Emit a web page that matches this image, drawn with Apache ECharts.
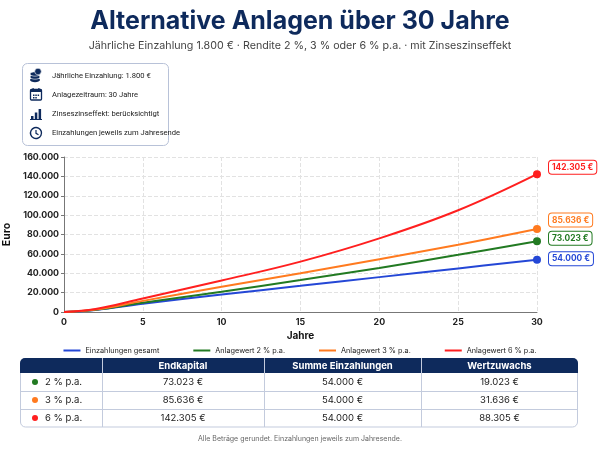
<!DOCTYPE html>
<html>
<head>
<meta charset="utf-8">
<script src="https://cdn.jsdelivr.net/npm/echarts@6/dist/echarts.min.js"></script>
<style>
  html, body { margin: 0; padding: 0; background: #fff; }
  #chart { width: 600px; height: 450px; }
</style>
</head>
<body>
<div id="chart"></div>
<script>
// Werte (Euro, Jahresende)
var jahre = [0, 2, 5, 10, 15, 20, 25, 30];
var einzahlungen = [0, 2000, 8500, 18000, 27000, 36000, 45000, 54000];
var wert2 = [0, 2200, 9500, 21000, 33000, 45500, 59000, 73023];
var wert3 = [0, 2500, 11500, 26000, 40000, 54500, 69500, 85636];
var wert6 = [0, 3000, 14000, 32500, 52000, 76000, 105000, 142305];

var serienNamen = ['Einzahlungen gesamt', 'Anlagewert 2 % p.a.', 'Anlagewert 3 % p.a.', 'Anlagewert 6 % p.a.'];
var farben = ['#2447d6', '#227a22', '#ff7a1f', '#ff1f1f'];
var labelOffset = [[0, -1], [0, -3], [0, -9], [0, -7]];

var tabelleKopf = ['', 'Endkapital', 'Summe Einzahlungen', 'Wertzuwachs'];
var tabelleZeilen = [
  ['2 % p.a.', '73.023 €', '54.000 €', '19.023 €'],
  ['3 % p.a.', '85.636 €', '54.000 €', '31.636 €'],
  ['6 % p.a.', '142.305 €', '54.000 €', '88.305 €']
];
var tabelleFarben = ['#227a22', '#ff7a1f', '#ff1f1f'];

var infoTexte = ['Jährliche Einzahlung: 1.800 €', 'Anlagezeitraum: 30 Jahre',
  'Zinseszinseffekt: berücksichtigt', 'Einzahlungen jeweils zum Jahresende'];

var navy = '#0e2a5c';
var FONT = 'Inter, "Noto Sans", sans-serif';
var SMALL = '"Liberation Sans Narrow", Roboto, sans-serif';

function fmt(v) {
  return String(Math.round(v)).replace(/\B(?=(\d{3})+(?!\d))/g, '.');
}

var myChart = echarts.init(document.getElementById('chart'));

var reihen = [einzahlungen, wert2, wert3, wert6];
var series = reihen.map(function (werte, i) {
  var last = werte[werte.length - 1];
  return {
    name: serienNamen[i],
    type: 'line',
    smooth: 0.4,
    showSymbol: false,
    data: jahre.map(function (j, k) { return [j, werte[k]]; }),
    lineStyle: { width: 2, color: farben[i] },
    itemStyle: { color: farben[i] },
    z: 3 + i,
    markPoint: {
      symbol: 'circle',
      symbolSize: 8,
      itemStyle: { color: farben[i] },
      data: [{ coord: [30, last], value: last }],
      label: {
        show: true,
        position: 'right',
        distance: 8,
        offset: labelOffset[i],
        formatter: function (p) { return fmt(p.value) + ' €'; },
        color: farben[i],
        fontFamily: FONT,
        fontWeight: 'bold',
        fontSize: 8.4,
        backgroundColor: '#fff',
        borderColor: farben[i],
        borderWidth: 1,
        borderRadius: 3,
        padding: [3, 3, 2, 3]
      }
    }
  };
});

// Info-Box mit Icons
var infoElemente = [
  { type: 'rect', shape: { x: 22.5, y: 63.5, width: 146, height: 82, r: 5 },
    style: { fill: '#fff', stroke: '#b8c2d8', lineWidth: 1 } }
];
var iconX = 36, zeilenY = [76, 95, 114, 133];
// Münzen
infoElemente.push(
  { type: 'ellipse', shape: { cx: iconX - 1, cy: 80, rx: 5, ry: 2.2 }, style: { fill: navy } },
  { type: 'ellipse', shape: { cx: iconX - 1, cy: 77, rx: 5, ry: 2.2 }, style: { fill: navy, stroke: '#fff', lineWidth: 0.6 } },
  { type: 'ellipse', shape: { cx: iconX - 1, cy: 74, rx: 5, ry: 2.2 }, style: { fill: navy, stroke: '#fff', lineWidth: 0.6 } },
  { type: 'circle', shape: { cx: iconX + 2, cy: 71.5, r: 3.3 }, style: { fill: navy, stroke: '#fff', lineWidth: 0.6 } }
);
// Kalender
infoElemente.push(
  { type: 'rect', shape: { x: iconX - 5.5, y: 89.5, width: 11, height: 10.5, r: 1 }, style: { fill: 'none', stroke: navy, lineWidth: 1.3 } },
  { type: 'rect', shape: { x: iconX - 5.5, y: 89.5, width: 11, height: 2.5 }, style: { fill: navy } },
  { type: 'rect', shape: { x: iconX - 3.5, y: 88, width: 1.2, height: 3 }, style: { fill: navy } },
  { type: 'rect', shape: { x: iconX + 2.3, y: 88, width: 1.2, height: 3 }, style: { fill: navy } },
  { type: 'rect', shape: { x: iconX - 3, y: 94.5, width: 1.5, height: 1.5 }, style: { fill: navy } },
  { type: 'rect', shape: { x: iconX - 0.7, y: 94.5, width: 1.5, height: 1.5 }, style: { fill: navy } },
  { type: 'rect', shape: { x: iconX + 1.6, y: 94.5, width: 1.5, height: 1.5 }, style: { fill: navy } },
  { type: 'rect', shape: { x: iconX - 3, y: 97, width: 1.5, height: 1.5 }, style: { fill: navy } },
  { type: 'rect', shape: { x: iconX - 0.7, y: 97, width: 1.5, height: 1.5 }, style: { fill: navy } }
);
// Balken
infoElemente.push(
  { type: 'rect', shape: { x: iconX - 5, y: 116, width: 2.5, height: 3 }, style: { fill: navy } },
  { type: 'rect', shape: { x: iconX - 1.2, y: 112.5, width: 2.5, height: 6.5 }, style: { fill: navy } },
  { type: 'rect', shape: { x: iconX + 2.6, y: 109, width: 2.5, height: 10 }, style: { fill: navy } },
  { type: 'rect', shape: { x: iconX - 6, y: 119, width: 12, height: 1 }, style: { fill: navy } }
);
// Uhr
infoElemente.push(
  { type: 'arc', shape: { cx: iconX, cy: 133, r: 5.5, startAngle: -Math.PI * 0.35, endAngle: Math.PI * 1.85 },
    style: { fill: 'none', stroke: navy, lineWidth: 1.4 } },
  { type: 'polyline', shape: { points: [[iconX, 130], [iconX, 133.3], [iconX + 2.5, 134.8]] },
    style: { fill: 'none', stroke: navy, lineWidth: 1.2 } }
);
infoTexte.forEach(function (t, i) {
  infoElemente.push({ type: 'text', x: 52, y: zeilenY[i],
    style: { text: t, fill: '#222', font: '7.6px ' + SMALL, textVerticalAlign: 'middle' } });
});

// Tabelle
var tabX = [20, 102, 264, 421, 578];
var tabY = [358, 373, 391, 409, 427];
var tabElemente = [
  { type: 'rect', shape: { x: 20.5, y: 358.5, width: 557, height: 68.5, r: 5 },
    style: { fill: '#fff', stroke: '#c3cbdd', lineWidth: 1 } },
  { type: 'rect', shape: { x: 20, y: 358, width: 558, height: 15, r: [5, 5, 0, 0] },
    style: { fill: navy } }
];
for (var c = 1; c < 4; c++) {
  tabElemente.push({ type: 'line', shape: { x1: tabX[c] + 0.5, y1: 358, x2: tabX[c] + 0.5, y2: 427 },
    style: { stroke: '#c3cbdd', lineWidth: 1 } });
}
for (var r = 2; r < 4; r++) {
  tabElemente.push({ type: 'line', shape: { x1: 20, y1: tabY[r] + 0.5, x2: 578, y2: tabY[r] + 0.5 },
    style: { stroke: '#c3cbdd', lineWidth: 1 } });
}
tabelleKopf.forEach(function (t, ci) {
  if (!t) return;
  tabElemente.push({ type: 'text', x: (tabX[ci] + tabX[ci + 1]) / 2, y: 366,
    style: { text: t, fill: '#fff', font: 'bold 9.5px ' + FONT, textAlign: 'center', textVerticalAlign: 'middle' } });
});
tabelleZeilen.forEach(function (zeile, ri) {
  var cy = (tabY[ri + 1] + tabY[ri + 2]) / 2;
  tabElemente.push({ type: 'circle', shape: { cx: 35, cy: cy, r: 3 }, style: { fill: tabelleFarben[ri] } });
  zeile.forEach(function (t, ci) {
    var isFirst = ci === 0;
    tabElemente.push({ type: 'text', x: isFirst ? 45 : (tabX[ci] + tabX[ci + 1]) / 2, y: cy,
      style: { text: t, fill: '#1a1a1a', font: '9.5px ' + FONT,
        textAlign: isFirst ? 'left' : 'center', textVerticalAlign: 'middle' } });
  });
});

var option = {
  animation: false,
  backgroundColor: '#fff',
  textStyle: { fontFamily: FONT },
  title: {
    text: 'Alternative Anlagen über 30 Jahre',
    subtext: 'Jährliche Einzahlung 1.800 € · Rendite 2 %, 3 % oder 6 % p.a. · mit Zinseszinseffekt',
    left: 'center',
    top: 4,
    itemGap: 6,
    textStyle: { fontFamily: FONT, fontSize: 25, fontWeight: 'bold', color: navy },
    subtextStyle: { fontFamily: FONT, fontSize: 10.7, color: '#444' }
  },
  legend: {
    data: serienNamen,
    top: 342,
    left: 'center',
    icon: 'rect',
    itemWidth: 17,
    itemHeight: 2,
    itemGap: 34,
    textStyle: { fontFamily: FONT, fontSize: 7.3, color: '#222' }
  },
  grid: { left: 64, right: 63, top: 157, bottom: 138, containLabel: false, outerBoundsMode: 'none' },
  xAxis: {
    type: 'value',
    min: 0,
    max: 30,
    interval: 5,
    name: 'Jahre',
    nameLocation: 'middle',
    nameGap: 19,
    nameTextStyle: { fontFamily: FONT, fontWeight: 'bold', fontSize: 10, color: '#111' },
    axisLine: { lineStyle: { color: '#777', width: 1 } },
    axisTick: { show: false },
    axisLabel: { fontFamily: FONT, fontWeight: 'bold', fontSize: 8.8, color: '#222', margin: 6 },
    splitLine: { show: true, lineStyle: { type: 'dashed', color: '#e2e2e2' } }
  },
  yAxis: {
    type: 'value',
    min: 0,
    max: 160000,
    interval: 20000,
    name: 'Euro',
    nameLocation: 'middle',
    nameRotate: 90,
    nameGap: 46,
    nameTextStyle: { fontFamily: FONT, fontWeight: 'bold', fontSize: 10.5, color: '#111' },
    axisLine: { show: true, lineStyle: { color: '#777', width: 1 } },
    axisTick: { show: true, length: 3, lineStyle: { color: '#777' } },
    axisLabel: { fontFamily: FONT, fontWeight: 'bold', fontSize: 8.8, color: '#222', margin: 5,
      formatter: function (v) { return fmt(v); } },
    splitLine: { show: true, lineStyle: { type: 'dashed', color: '#e2e2e2' } }
  },
  series: series,
  graphic: [
    { type: 'group', silent: true, children: infoElemente },
    { type: 'group', silent: true, children: tabElemente },
    { type: 'text', left: 'center', top: 435, silent: true,
      style: { text: 'Alle Beträge gerundet. Einzahlungen jeweils zum Jahresende.', fill: '#666', font: '7px ' + FONT } }
  ]
};

myChart.setOption(option);
</script>
</body>
</html>
